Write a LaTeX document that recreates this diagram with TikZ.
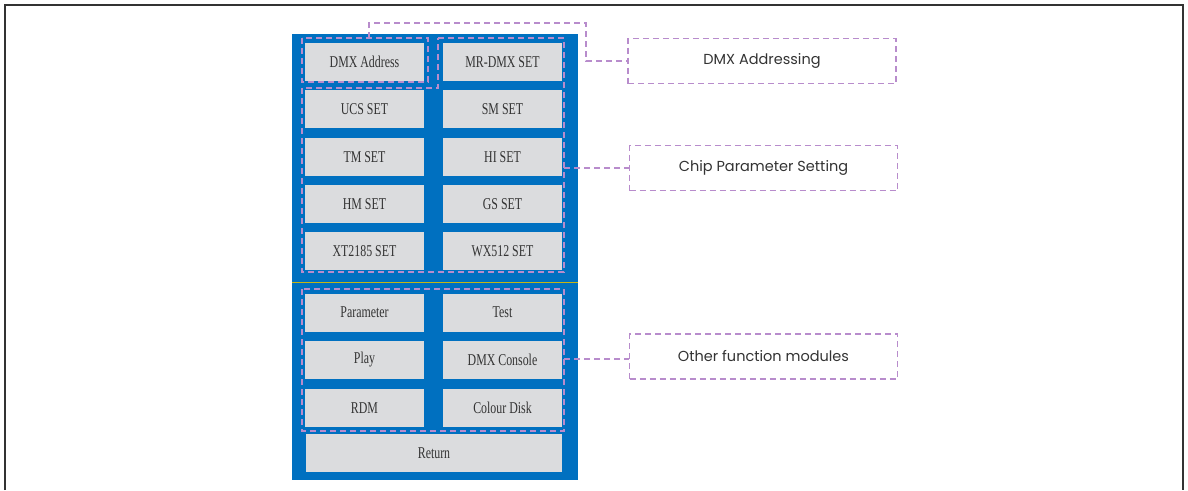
\documentclass[tikz,border=0pt]{standalone}
\usepackage{fontspec}
\setmainfont{Liberation Serif}
\newfontfamily\keyfont[FakeStretch=0.72]{Liberation Serif}
\newfontfamily\notefont{Poppins}
\usetikzlibrary{calc}
\definecolor{panel}{RGB}{0,112,192}
\definecolor{keygray}{RGB}{219,220,222}
\definecolor{groupline}{RGB}{184,140,204}
\definecolor{splitline}{RGB}{200,180,20}
\definecolor{ink}{RGB}{51,51,51}
\tikzset{key/.style={fill=keygray,text=ink,minimum width=119,minimum height=38,inner sep=0pt,
                     font=\keyfont\fontsize{16.5}{16.5}\selectfont},
         groupbox/.style={draw=groupline,line width=1.1pt,dash pattern=on 6pt off 4pt},
         notebox/.style={groupbox,minimum width=268,minimum height=45,inner sep=0pt,text=ink,
                         font=\notefont\fontsize{14.5}{14.5}\selectfont}}

\begin{document}
\begin{tikzpicture}[x=1pt,y=-1pt]
  \useasboundingbox (0,0) rectangle (1188,490);
  % outer frame, open at the bottom
  \draw[ink,line width=1.6pt] (5,490)--(5,5)--(1183,5)--(1183,490);
  % the key panel
  \fill[panel] (292,34) rectangle (578,480);
  \draw[splitline,line width=1pt] (292,282)--(578,282);
  \node[key] (addr)  at (364.5,62)  {DMX Address};
  \node[key] (mrdmx) at (502.5,62)  {MR-DMX SET};
  \node[key] (ucs)   at (364.5,109) {UCS SET};
  \node[key] (sm)    at (502.5,109) {SM SET};
  \node[key] (tm)    at (364.5,157) {TM SET};
  \node[key] (hi)    at (502.5,157) {HI SET};
  \node[key] (hm)    at (364.5,204) {HM SET};
  \node[key] (gs)    at (502.5,204) {GS SET};
  \node[key] (xt)    at (364.5,251) {XT2185 SET};
  \node[key] (wx)    at (502.5,251) {WX512 SET};
  \node[key] (param) at (364.5,312.5) {Parameter};
  \node[key] (test)  at (502.5,312.5) {Test};
  \node[key] (play)  at (364.5,360) {Play};
  \node[key] (cons)  at (502.5,360) {DMX Console};
  \node[key] (rdm)   at (364.5,408) {RDM};
  \node[key] (disk)  at (502.5,408) {Colour Disk};
  \node[key,minimum width=256] (ret) at (434,453) {Return};
  % dashed groups round the keys
  \draw[groupbox] (302,38) rectangle (428,82);
  \draw[groupbox] (438,38)--(564,38)--(564,272)--(302,272)--(302,88)--(438,88)--cycle;
  \draw[groupbox] (302,289) rectangle (564,431);
  \coordinate (addrtop) at (369,38);
  \coordinate (chipside) at (564,168);
  \coordinate (restside) at (564,359);
  % notes on the right
  \node[notebox] (nAddr) at (762,61)    {DMX Addressing};
  \node[notebox] (nChip) at (763.5,168) {Chip Parameter Setting};
  \node[notebox] (nRest) at (763.5,356.5) {Other function modules};
  \draw[groupbox] (addrtop)--(369,23)--(586,23)--(586,61)--(nAddr.west);
  \draw[groupbox] (chipside)--(nChip.west);
  \draw[groupbox] (restside)--(nRest.west|-restside);
\end{tikzpicture}
\end{document}
